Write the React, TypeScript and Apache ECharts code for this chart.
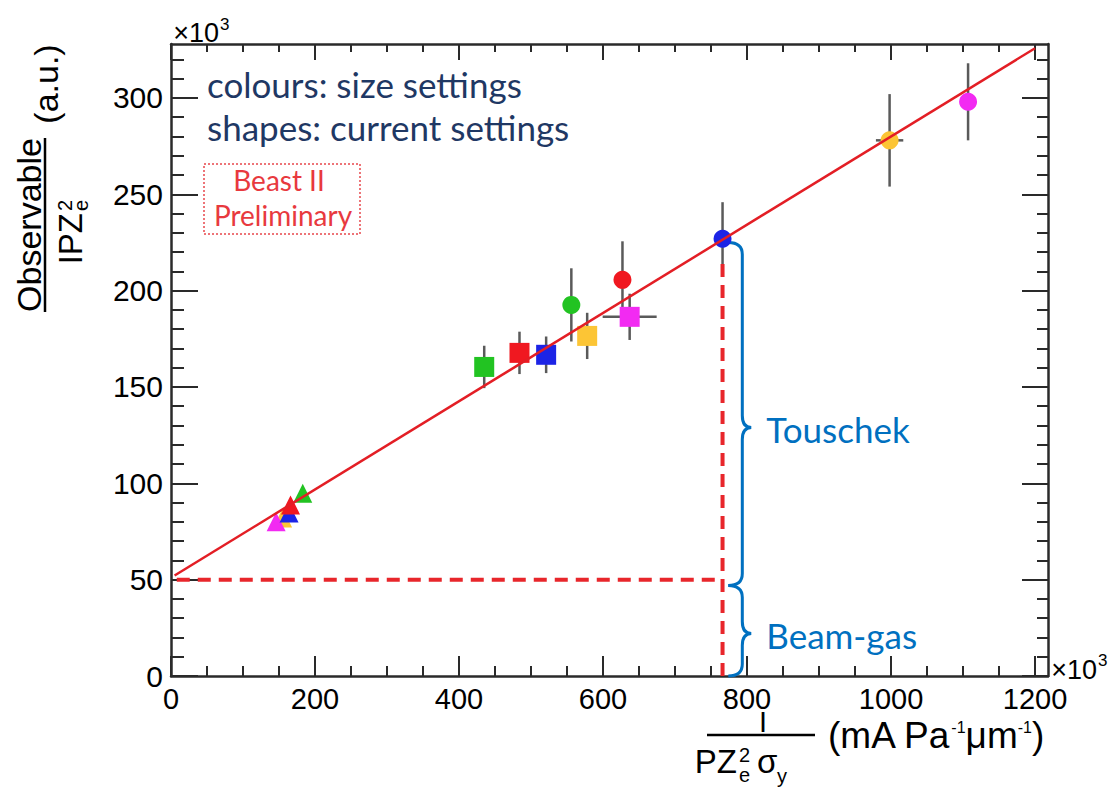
import React, { useEffect, useRef } from 'react';
import * as echarts from 'echarts';

// ---------- data ----------
const xTicks = [0, 200, 400, 600, 800, 1000, 1200];
const yTicks = [0, 50, 100, 150, 200, 250, 300];
const xRange = [0, 1218];
const yRange = [0, 328];

const circleX = [556, 627, 766, 998, 1107];
const circleY = [192.6, 205.6, 226.9, 278, 298];
const circleYErr = [19, 20, 19, 24, 20];
const circleXErr = [0, 0, 0, 19, 0];
const circleColors = ['green', 'red', 'blue', 'yellow', 'magenta'];

const squareX = [435, 484, 521, 578, 637];
const squareY = [160.4, 167.7, 166.7, 176.5, 186.4];
const squareYErr = [11, 11, 9.5, 12, 12];
const squareXErr = [0, 0, 0, 0, 37.5];
const squareColors = ['green', 'red', 'blue', 'yellow', 'magenta'];

const triangleX = [155, 146, 164, 166, 183];
const triangleY = [82, 80, 84.6, 88.8, 94.9];
const triangleColors = ['yellow', 'magenta', 'blue', 'red', 'green'];

const fitIntercept = 51;
const fitSlope = 0.229;
const fitRange = [5, 1200];

const guideStartX = 8;
const guideX = 766;
const guideY = 50;
const guideTop = 217;

const braceX = 774;
const braceLabels = ['Touschek', 'Beam-gas'];
const braceLow = [47, 0];
const braceHigh = [225, 47];
const braceTip = [129, 22];

const palette: Record<string, string> = {
  green: '#22C322',
  red: '#F01820',
  blue: '#1C24E6',
  yellow: '#FCC535',
  magenta: '#F22AF2',
};

const xMinor: number[] = [];
for (let v = 50; v <= 1200; v += 50) if (v % 200 !== 0) xMinor.push(v);
const yMinor: number[] = [];
for (let v = 10; v <= 320; v += 10) if (v % 50 !== 0) yMinor.push(v);

const AX = '#2a2a2a';
const HELV = 'Liberation Sans';
const CAL = 'Lato';

function xAxisDef(position: string, values: number[], len: number, label: boolean, line: boolean) {
  return {
    type: 'value', position, min: xRange[0], max: xRange[1],
    axisLine: { show: line, onZero: false, lineStyle: { color: AX, width: 2.5 } },
    axisTick: { show: true, inside: true, length: len, customValues: values, lineStyle: { color: AX, width: 2 } },
    axisLabel: {
      show: label, customValues: values, fontSize: 29, fontFamily: HELV, color: '#000', margin: 8,
      formatter: (v: number) => String(v),
    },
    splitLine: { show: false },
  };
}
function yAxisDef(position: string, values: number[], len: number, label: boolean, line: boolean) {
  return {
    type: 'value', position, min: yRange[0], max: yRange[1],
    axisLine: { show: line, onZero: false, lineStyle: { color: AX, width: 2.5 } },
    axisTick: { show: true, inside: true, length: len, customValues: values, lineStyle: { color: AX, width: 2 } },
    axisLabel: {
      show: label, customValues: values, fontSize: 30, fontFamily: HELV, color: '#000', margin: 8,
      formatter: (v: number) => String(v),
    },
    splitLine: { show: false },
  };
}

function txt(x: number, y: number, text: string, size: number, family: string, fill: string, align = 'left', rotation = 0, extra: any = {}) {
  return {
    type: 'text', x, y, rotation,
    style: {
      text, fontSize: size, fontFamily: family, fill,
      align, textAlign: align, verticalAlign: 'middle', textVerticalAlign: 'middle', ...extra,
    },
  };
}

export default function App() {
  const ref = useRef<HTMLDivElement>(null);
  useEffect(() => {
    document.body.style.margin = '0';
    const chart = echarts.init(ref.current!, null, { renderer: 'svg' });

    const errData = [
      ...circleX.map((x, i) => [x, circleY[i], circleYErr[i], circleXErr[i]]),
      ...squareX.map((x, i) => [x, squareY[i], squareYErr[i], squareXErr[i]]),
    ];

    const R = Math.PI / 2;
    const graphic = [
      // x10^3 top-left
      txt(219, 33, '×10', 27, HELV, '#000', 'right'),
      txt(220, 24.5, '3', 17, HELV, '#000'),
      // x10^3 bottom-right
      txt(1097, 670, '×10', 27, HELV, '#000', 'right'),
      txt(1098, 660, '3', 17, HELV, '#000'),
      // annotation texts
      txt(207, 83.5, 'colours: size settings', 35, CAL, '#1F3864'),
      txt(207, 126.5, 'shapes: current settings', 35, CAL, '#1F3864'),
      {
        type: 'rect', shape: { x: 204, y: 164, width: 156, height: 70 },
        style: { fill: 'none', stroke: '#E8474C', lineWidth: 1.5, lineDash: [2, 2] },
      },
      txt(279, 179.5, 'Beast II', 28, CAL, '#E8393E', 'center'),
      txt(283, 215, 'Preliminary', 28, CAL, '#E8393E', 'center'),
      // y title (rotated)
      txt(28.6, 225, 'Observable', 34, HELV, '#000', 'center', R),
      { type: 'line', shape: { x1: 45, y1: 138, x2: 45, y2: 312 }, style: { stroke: '#000', lineWidth: 2.5 } },
      txt(70.2, 213, 'IPZ', 33, HELV, '#000', 'right', R),
      txt(65.1, 211, '2', 20, HELV, '#000', 'left', R),
      txt(81.1, 211, 'e', 20, HELV, '#000', 'left', R),
      txt(46.1, 84, '(a.u.)', 34, HELV, '#000', 'center', R),
      // x title
      txt(763, 722, 'I', 29, HELV, '#000', 'center'),
      { type: 'line', shape: { x1: 707, y1: 735, x2: 815, y2: 735 }, style: { stroke: '#000', lineWidth: 2.5 } },
      txt(737, 761.6, 'PZ', 33, HELV, '#000', 'right'),
      txt(739, 755.1, '2', 20, HELV, '#000'),
      txt(739, 775.1, 'e', 20, HELV, '#000'),
      txt(757, 761.6, 'σ', 33, HELV, '#000'),
      txt(777, 776, 'y', 20, HELV, '#000'),
      txt(828, 735, '(mA Pa{s|-1}μm{s|-1})', 37, HELV, '#000', 'left', 0, {
        rich: { s: { fontSize: 16, fontFamily: HELV, fill: '#000', padding: [0, 0, 16, 0] } },
      }),
    ];

    const option: any = {
      animation: false,
      textStyle: { fontFamily: HELV },
      grid: { left: 171, top: 44, right: 66, bottom: 118, containLabel: false, outerBoundsMode: 'none' },
      xAxis: [
        xAxisDef('bottom', xTicks, 20, true, true),
        xAxisDef('bottom', xMinor, 10, false, false),
        xAxisDef('top', xTicks, 16, false, true),
        xAxisDef('top', xMinor, 8, false, false),
      ],
      yAxis: [
        yAxisDef('left', yTicks, 27, true, true),
        yAxisDef('left', yMinor, 13, false, false),
        yAxisDef('right', yTicks, 26, false, true),
        yAxisDef('right', yMinor, 11, false, false),
      ],
      graphic,
      series: [
        {
          type: 'custom', silent: true, encode: { x: 0, y: 1 },
          data: errData,
          renderItem: (params: any, api: any) => {
            const x = api.value(0), y = api.value(1), ye = api.value(2), xe = api.value(3);
            const t = api.coord([x, y + ye]);
            const b = api.coord([x, y - ye]);
            const children: any[] = [{
              type: 'line', shape: { x1: t[0], y1: t[1], x2: b[0], y2: b[1] },
              style: { stroke: '#5a5a5a', lineWidth: 2.5 },
            }];
            if (xe > 0) {
              const l = api.coord([x - xe, y]);
              const r = api.coord([x + xe, y]);
              children.push({
                type: 'line', shape: { x1: l[0], y1: l[1], x2: r[0], y2: r[1] },
                style: { stroke: '#5a5a5a', lineWidth: 2.5 },
              });
            }
            return { type: 'group', children };
          },
        },
        {
          type: 'scatter', symbol: 'rect', symbolSize: 20, silent: true,
          data: squareX.map((x, i) => ({ value: [x, squareY[i]], itemStyle: { color: palette[squareColors[i]], opacity: 1 } })),
        },
        {
          type: 'scatter', symbol: 'circle', symbolSize: 18, silent: true,
          data: circleX.map((x, i) => ({ value: [x, circleY[i]], itemStyle: { color: palette[circleColors[i]], opacity: 1 } })),
        },
        {
          type: 'scatter', symbol: 'triangle', symbolSize: 19, silent: true,
          data: triangleX.map((x, i) => ({ value: [x, triangleY[i]], itemStyle: { color: palette[triangleColors[i]], opacity: 1 } })),
        },
        {
          type: 'line', showSymbol: false, silent: true,
          data: fitRange.map((x) => [x, fitIntercept + fitSlope * x]),
          lineStyle: { color: '#E31E25', width: 2.5 },
        },
        {
          type: 'line', showSymbol: false, silent: true,
          data: [[guideStartX, guideY], [guideX, guideY]],
          lineStyle: { color: '#E8262B', width: 4, type: [13, 8] },
        },
        {
          type: 'line', showSymbol: false, silent: true,
          data: [[guideX, 0], [guideX, guideTop]],
          lineStyle: { color: '#E8262B', width: 4, type: [13, 8] },
        },
        {
          type: 'custom', silent: true, encode: { x: 0, y: 1 },
          data: braceLow.map((lo, i) => [braceX, lo, braceHigh[i], braceTip[i]]),
          renderItem: (params: any, api: any) => {
            const xL = api.value(0);
            const pb = api.coord([xL, api.value(1)]);
            const pt = api.coord([xL, api.value(2)]);
            const pm = api.coord([xL, api.value(3)]);
            const L = pb[0], S = L + 14, T = L + 23, r = 12;
            const yt = pt[1], yb = pb[1], ym = pm[1];
            const d = `M ${L} ${yt} Q ${S} ${yt} ${S} ${yt + r} L ${S} ${ym - r} Q ${S} ${ym} ${T} ${ym} ` +
              `Q ${S} ${ym} ${S} ${ym + r} L ${S} ${yb - r} Q ${S} ${yb} ${L} ${yb}`;
            return {
              type: 'group',
              children: [
                { type: 'path', shape: { pathData: d }, style: { fill: 'none', stroke: '#0070C0', lineWidth: 3 } },
                {
                  type: 'text',
                  style: {
                    text: braceLabels[params.dataIndex], x: T + 15, y: ym + 1.5,
                    fontSize: 35, fontFamily: CAL, fill: '#0070C0',
                    align: 'left', textAlign: 'left', verticalAlign: 'middle', textVerticalAlign: 'middle',
                  },
                },
              ],
            };
          },
        },
      ],
    };
    chart.setOption(option);
    return () => chart.dispose();
  }, []);
  return <div ref={ref} style={{ width: 1114, height: 794, background: '#fff' }} />;
}
